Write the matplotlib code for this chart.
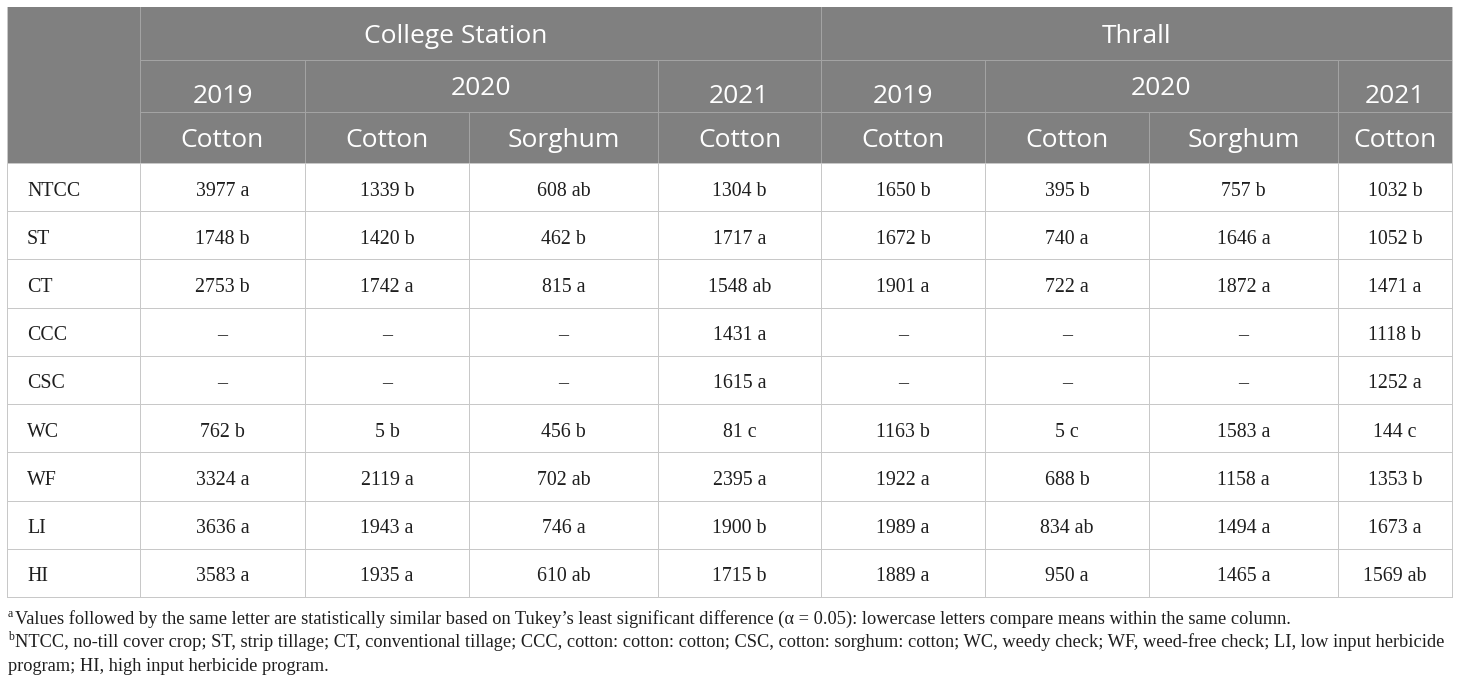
import matplotlib
matplotlib.use("Agg")
from matplotlib import pyplot as plt
from matplotlib.patches import Rectangle

# Table content
treatments = ["NTCC", "ST", "CT", "CCC", "CSC", "WC", "WF", "LI", "HI"]
sites = ["College Station", "Thrall"]
years = ["2019", "2020", "2021"]
crops = ["Cotton", "Cotton", "Sorghum", "Cotton", "Cotton", "Cotton", "Sorghum", "Cotton"]

cs_2019_cotton = [3977, 1748, 2753, None, None, 762, 3324, 3636, 3583]
cs_2019_cotton_let = ["a", "b", "b", None, None, "b", "a", "a", "a"]
cs_2020_cotton = [1339, 1420, 1742, None, None, 5, 2119, 1943, 1935]
cs_2020_cotton_let = ["b", "b", "a", None, None, "b", "a", "a", "a"]
cs_2020_sorghum = [608, 462, 815, None, None, 456, 702, 746, 610]
cs_2020_sorghum_let = ["ab", "b", "a", None, None, "b", "ab", "a", "ab"]
cs_2021_cotton = [1304, 1717, 1548, 1431, 1615, 81, 2395, 1900, 1715]
cs_2021_cotton_let = ["b", "a", "ab", "a", "a", "c", "a", "b", "b"]
th_2019_cotton = [1650, 1672, 1901, None, None, 1163, 1922, 1989, 1889]
th_2019_cotton_let = ["b", "b", "a", None, None, "b", "a", "a", "a"]
th_2020_cotton = [395, 740, 722, None, None, 5, 688, 834, 950]
th_2020_cotton_let = ["b", "a", "a", None, None, "c", "b", "ab", "a"]
th_2020_sorghum = [757, 1646, 1872, None, None, 1583, 1158, 1494, 1465]
th_2020_sorghum_let = ["b", "a", "a", None, None, "a", "a", "a", "a"]
th_2021_cotton = [1032, 1052, 1471, 1118, 1252, 144, 1353, 1673, 1569]
th_2021_cotton_let = ["b", "b", "a", "b", "a", "c", "b", "a", "ab"]

footnote_a = ("Values followed by the same letter are statistically similar based on Tukey\u2019s least "
              "significant difference (\u03b1 = 0.05): lowercase letters compare means within the same column.")
footnote_b1 = ("NTCC, no-till cover crop; ST, strip tillage; CT, conventional tillage; CCC, cotton: cotton: cotton; "
               "CSC, cotton: sorghum: cotton; WC, weedy check; WF, weed-free check; LI, low input herbicide")
footnote_b2 = "program; HI, high input herbicide program."

columns = [
    (cs_2019_cotton, cs_2019_cotton_let), (cs_2020_cotton, cs_2020_cotton_let),
    (cs_2020_sorghum, cs_2020_sorghum_let), (cs_2021_cotton, cs_2021_cotton_let),
    (th_2019_cotton, th_2019_cotton_let), (th_2020_cotton, th_2020_cotton_let),
    (th_2020_sorghum, th_2020_sorghum_let), (th_2021_cotton, th_2021_cotton_let),
]

# layout in pixels
W, H = 1460, 685
col_x = [7, 140, 305, 469, 658, 821, 985, 1149, 1338, 1452]
head_y = [7, 60, 112, 163]
body_top, body_bot = 163, 597
row_h = (body_bot - body_top) / len(treatments)

head_bg = "#808080"
head_line = "#a3a3a3"
body_line = "#c8c8c8"
txt = "#1e1e1e"
px = 0.72  # one pixel in points

fig = plt.figure(figsize=(W / 100, H / 100), dpi=100)
ax = fig.add_axes([0, 0, 1, 1])
ax.set_xlim(0, W)
ax.set_ylim(H, 0)
ax.axis("off")

# header block
ax.add_patch(Rectangle((col_x[0], head_y[0]), col_x[-1] - col_x[0], head_y[3] - head_y[0],
                       facecolor=head_bg, edgecolor="none"))
ax.plot([col_x[1], col_x[-1]], [head_y[1]] * 2, color=head_line, lw=px)
ax.plot([col_x[1], col_x[-1]], [head_y[2]] * 2, color=head_line, lw=px)
for x in [col_x[1], col_x[5]]:
    ax.plot([x, x], [head_y[0], head_y[3]], color=head_line, lw=px)
for x in [col_x[2], col_x[4], col_x[6], col_x[8]]:
    ax.plot([x, x], [head_y[1], head_y[3]], color=head_line, lw=px)
for x in [col_x[3], col_x[7]]:
    ax.plot([x, x], [head_y[2], head_y[3]], color=head_line, lw=px)

hfont = dict(family="Open Sans", color="white", fontsize=19, ha="center", va="baseline")
ax.text(456, 43, sites[0], **hfont)  # sits left of centre in the original
ax.text((col_x[5] + col_x[9]) / 2, 43, sites[1], **hfont)
year_spans = [(1, 2, 0, 103), (2, 4, 1, 95), (4, 5, 2, 103), (5, 6, 0, 103), (6, 8, 1, 95), (8, 9, 2, 103)]
for a, b, yi, yy in year_spans:
    ax.text((col_x[a] + col_x[b]) / 2, yy, years[yi], **hfont)
for i, crop in enumerate(crops):
    ax.text((col_x[i + 1] + col_x[i + 2]) / 2, 147, crop, **hfont)

# body grid
for r in range(len(treatments) + 1):
    y = body_top + r * row_h
    ax.plot([col_x[0], col_x[-1]], [y, y], color=body_line, lw=px)
for x in col_x:
    ax.plot([x, x], [body_top, body_bot], color=body_line, lw=px)
ax.plot([col_x[0], col_x[0]], [head_y[0], body_top], color=body_line, lw=px)
ax.plot([col_x[-1], col_x[-1]], [head_y[0], body_top], color=body_line, lw=px)

bfont = dict(family="Liberation Serif", color=txt, fontsize=14.3, va="baseline")
for r, name in enumerate(treatments):
    yb = body_top + r * row_h + 32.5
    ax.text(27, yb, name, ha="left", **bfont)
    for c, (vals, lets) in enumerate(columns):
        xc = (col_x[c + 1] + col_x[c + 2]) / 2
        s = "\u2013" if vals[r] is None else f"{vals[r]} {lets[r]}"
        ax.text(xc, yb, s, ha="center", **bfont)

# footnotes
ffont = dict(family="Liberation Serif", color=txt, fontsize=13.2, va="baseline", ha="left")
sfont = dict(family="Liberation Serif", color=txt, fontsize=8.5, va="baseline", ha="left")
ax.text(8, 617, "a", **sfont)
ax.text(15, 624, footnote_a, **ffont)
ax.text(8, 640, "b", **sfont)
ax.text(15, 647, footnote_b1, **ffont)
ax.text(8, 671, footnote_b2, **ffont)

fig.savefig("out.png", dpi=100)
